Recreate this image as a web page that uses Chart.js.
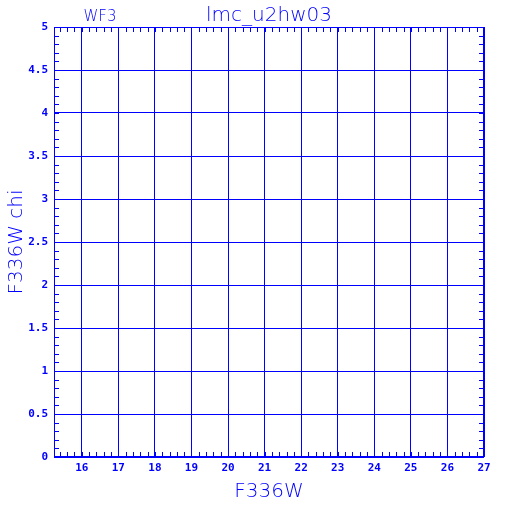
<!DOCTYPE html>
<html>
<head>
<meta charset="utf-8">
<script src="https://cdn.jsdelivr.net/npm/chart.js@4"></script>
<style>
  html, body { margin: 0; padding: 0; background: #fff; }
  #wrap { width: 512px; height: 512px; }
</style>
</head>
<body>
<div id="wrap"><canvas id="chart" width="512" height="512"></canvas></div>
<script>
// Data (the plot has no points)
const points = [];
const xTickValues = [16, 17, 18, 19, 20, 21, 22, 23, 24, 25, 26, 27];
const yTickValues = [0, 0.5, 1, 1.5, 2, 2.5, 3, 3.5, 4, 4.5, 5];
const xRange = [15.24, 27];
const yRange = [0, 5];
const xMinorStep = 0.2;
const yMinorStep = 0.1;
const chartTitle = 'lmc_u2hw03';
const cornerLabel = 'WF3';
const xTitle = 'F336W';
const yTitle = 'F336W chi';

const BLUE = '#0000ff';
const tickFont = { family: 'DejaVu Sans Mono', size: 11, weight: 'bold' };
const titleFont = { family: 'DejaVu Sans', size: 20, weight: '200' };

// frame, inside minor ticks and the top labels
const framePlugin = {
    id: 'frame',
    afterDraw(chart) {
        const ctx = chart.ctx;
        const a = chart.chartArea;
        const xs = chart.scales.x, ys = chart.scales.y;
        ctx.save();
        ctx.strokeStyle = BLUE;
        ctx.lineWidth = 1;
        ctx.strokeRect(a.left + 0.5, a.top + 0.5, a.right - a.left - 1, a.bottom - a.top - 1);

        ctx.beginPath();
        for (let i = Math.ceil(xRange[0] / xMinorStep); i * xMinorStep <= xRange[1] + 1e-9; i++) {
            const px = Math.round(xs.getPixelForValue(i * xMinorStep)) + 0.5;
            ctx.moveTo(px, a.bottom); ctx.lineTo(px, a.bottom - 5);
            ctx.moveTo(px, a.top); ctx.lineTo(px, a.top + 5);
        }
        for (let i = Math.ceil(yRange[0] / yMinorStep); i * yMinorStep <= yRange[1] + 1e-9; i++) {
            const py = Math.round(ys.getPixelForValue(i * yMinorStep)) + 0.5;
            ctx.moveTo(a.left, py); ctx.lineTo(a.left + 5, py);
            ctx.moveTo(a.right, py); ctx.lineTo(a.right - 5, py);
        }
        ctx.stroke();

        ctx.fillStyle = BLUE;
        ctx.textBaseline = 'middle';
        ctx.textAlign = 'center';
        ctx.font = `${titleFont.weight} ${titleFont.size}px "${titleFont.family}"`;
        ctx.fillText(chartTitle, (a.left + a.right) / 2, 16);
        ctx.font = `${titleFont.weight} 15px "${titleFont.family}"`;
        ctx.fillText(cornerLabel, 100, 17);
        ctx.restore();
    }
};

new Chart(document.getElementById('chart'), {
    type: 'scatter',
    data: {
        datasets: [{
            label: yTitle,
            data: points,
            backgroundColor: BLUE,
            borderColor: BLUE,
            pointRadius: 2
        }]
    },
    options: {
        responsive: false,
        animation: false,
        layout: { padding: { top: 27, right: 28, left: 0, bottom: 0 } },
        plugins: {
            legend: { display: false },
            tooltip: { enabled: false },
            title: { display: false }
        },
        scales: {
            x: {
                type: 'linear',
                min: xRange[0],
                max: xRange[1],
                afterBuildTicks: (scale) => { scale.ticks = xTickValues.map(v => ({ value: v })); },
                afterFit: (scale) => { scale.height = 55; },
                border: { display: false },
                grid: { color: BLUE, lineWidth: 1, drawTicks: false },
                ticks: { color: BLUE, font: tickFont, padding: 5, maxRotation: 0, autoSkip: false,
                    callback: (v) => String(v) },
                title: { display: true, text: xTitle, color: BLUE, font: titleFont, padding: { top: 3, bottom: 8 } }
            },
            y: {
                type: 'linear',
                min: yRange[0],
                max: yRange[1],
                afterBuildTicks: (scale) => { scale.ticks = yTickValues.map(v => ({ value: v })); },
                afterFit: (scale) => { scale.width = 54; },
                border: { display: false },
                grid: { color: BLUE, lineWidth: 1, drawTicks: false },
                ticks: { color: BLUE, font: tickFont, padding: 6, autoSkip: false,
                    callback: (v) => String(v) },
                title: { display: true, text: yTitle, color: BLUE, font: titleFont, padding: { top: 5, bottom: 0 } }
            }
        }
    },
    plugins: [framePlugin]
});
</script>
</body>
</html>
